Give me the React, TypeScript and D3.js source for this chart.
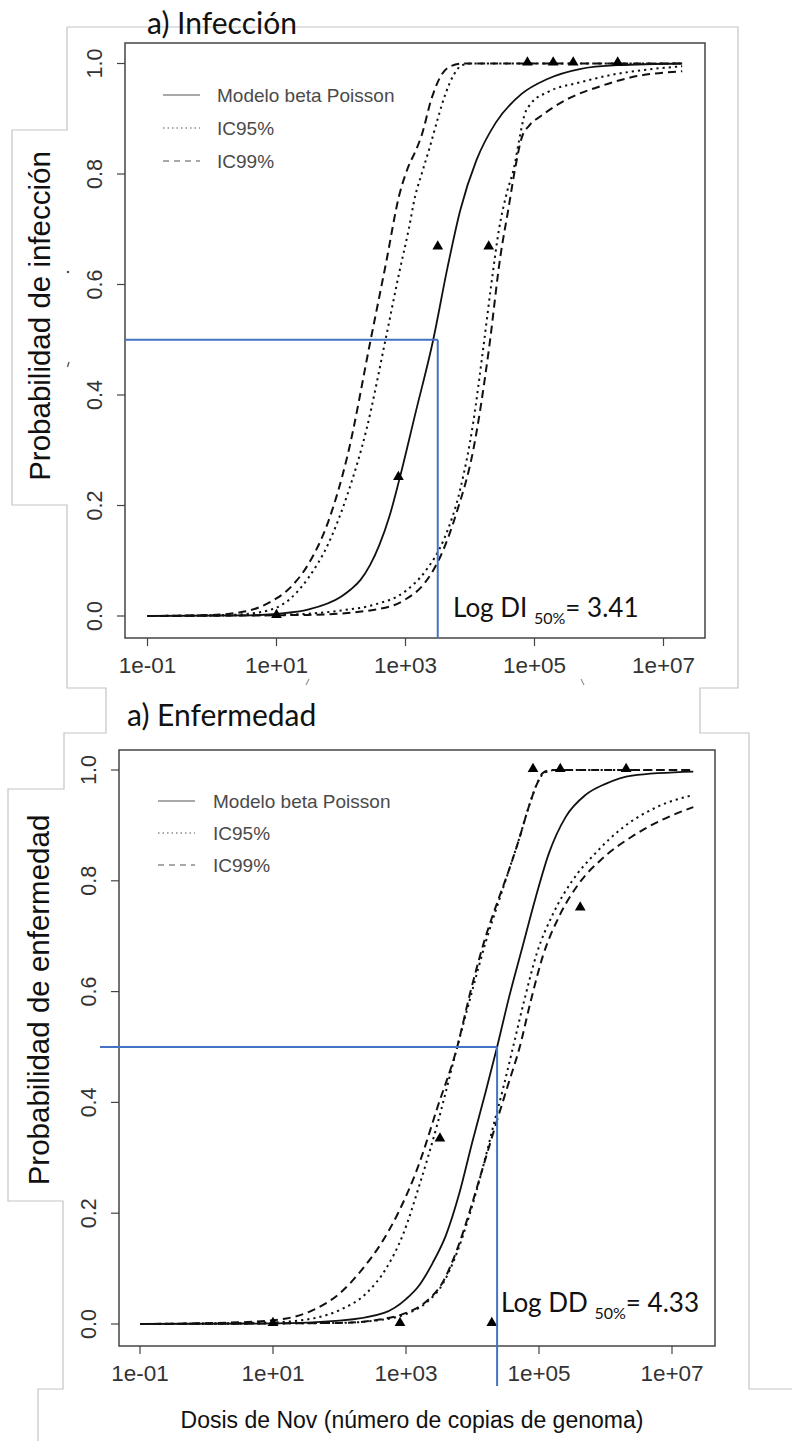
import React from 'react';
import * as d3 from 'd3';

type Pt = [number, number]; // [log10 dose, probability]

// ---------- axis ticks ----------
const xTickValues = [1e-1, 1e1, 1e3, 1e5, 1e7];
const xTickLabels = ['1e-01', '1e+01', '1e+03', '1e+05', '1e+07'];
const yTickValues = [0, 0.2, 0.4, 0.6, 0.8, 1.0];
const yTickLabels = ['0.0', '0.2', '0.4', '0.6', '0.8', '1.0'];
const legendLabels = ['Modelo beta Poisson', 'IC95%', 'IC99%'];

// ---------- a) Infección ----------
const infModel: Pt[] = [[-1, 0], [0.5, 0.001], [1.0, 0.004], [1.5, 0.012], [2.0, 0.035], [2.15, 0.048], [2.3, 0.065], [2.45, 0.092], [2.6, 0.13], [2.75, 0.18], [2.9, 0.245], [3.15, 0.365], [3.43, 0.5], [3.65, 0.63], [3.85, 0.735], [4.1, 0.825], [4.4, 0.893], [4.8, 0.945], [5.2, 0.972], [5.7, 0.99], [6.3, 0.997], [7.29, 1.0]];
const infLo95: Pt[] = [[-1, 0], [0.3, 0.002], [0.8, 0.008], [1.2, 0.03], [1.5, 0.07], [1.8, 0.13], [2.1, 0.22], [2.4, 0.34], [2.69, 0.5], [2.9, 0.62], [3.05, 0.7], [3.15, 0.76], [3.25, 0.8], [3.38, 0.85], [3.5, 0.9], [3.62, 0.945], [3.75, 0.98], [3.88, 0.997], [4.05, 1.0], [7.29, 1.0]];
const infHi95: Pt[] = [[-1, 0], [1.0, 0.002], [2.0, 0.01], [2.5, 0.02], [3.0, 0.045], [3.3, 0.08], [3.6, 0.14], [3.85, 0.23], [4.05, 0.35], [4.2, 0.48], [4.33, 0.6], [4.45, 0.7], [4.58, 0.77], [4.68, 0.81], [4.76, 0.86], [4.84, 0.905], [4.95, 0.928], [5.2, 0.948], [5.71, 0.966], [6.22, 0.98], [6.75, 0.989], [7.29, 0.995]];
const infLo99: Pt[] = [[-1, 0], [0, 0.002], [0.5, 0.008], [0.9, 0.025], [1.2, 0.05], [1.5, 0.095], [1.8, 0.17], [2.1, 0.29], [2.46, 0.5], [2.7, 0.64], [2.9, 0.76], [3.05, 0.815], [3.15, 0.84], [3.25, 0.87], [3.4, 0.935], [3.55, 0.978], [3.7, 0.995], [3.9, 1.0], [7.29, 1.0]];
const infHi99: Pt[] = [[-1, 0], [1.5, 0.002], [2.5, 0.011], [3.0, 0.03], [3.3, 0.06], [3.55, 0.11], [3.8, 0.19], [4.05, 0.3], [4.29, 0.48], [4.47, 0.65], [4.6, 0.74], [4.7, 0.81], [4.8, 0.865], [4.92, 0.888], [5.1, 0.905], [5.5, 0.935], [6.0, 0.958], [6.5, 0.975], [7.29, 0.986]];
const infObsDose = [1.0, 2.89, 3.5, 4.29, 4.89, 5.29, 5.6, 6.29];
const infObsProb = [0, 0.25, 0.667, 0.667, 1, 1, 1, 1];
const infMarkLog = 3.5;

// ---------- a) Enfermedad ----------
const disModel: Pt[] = [[-1, 0], [1.0, 0.001], [2.0, 0.006], [2.67, 0.02], [3.0, 0.045], [3.2, 0.07], [3.4, 0.11], [3.6, 0.16], [3.8, 0.235], [4.0, 0.33], [4.2, 0.42], [4.37, 0.5], [4.55, 0.59], [4.75, 0.68], [4.95, 0.77], [5.15, 0.85], [5.4, 0.915], [5.7, 0.955], [6.0, 0.975], [6.4, 0.99], [7.32, 0.997]];
const disLo95: Pt[] = [[-1, 0], [1.0, 0.003], [1.6, 0.01], [2.0, 0.025], [2.4, 0.055], [2.7, 0.1], [2.95, 0.16], [3.2, 0.25], [3.47, 0.36], [3.77, 0.5], [3.97, 0.59], [4.2, 0.69], [4.4, 0.765], [4.55, 0.82], [4.7, 0.875], [4.85, 0.935], [4.97, 0.975], [5.08, 0.995], [5.25, 1.0], [7.32, 1.0]];
const disHi95: Pt[] = [[-1, 0], [2.0, 0.002], [2.6, 0.007], [3.0, 0.018], [3.3, 0.038], [3.55, 0.072], [3.77, 0.13], [3.95, 0.195], [4.15, 0.28], [4.33, 0.365], [4.47, 0.43], [4.61, 0.5], [4.78, 0.585], [4.97, 0.67], [5.21, 0.74], [5.5, 0.8], [5.85, 0.85], [6.25, 0.895], [6.75, 0.932], [7.32, 0.955]];
const disLo99: Pt[] = [[-1, 0], [0.5, 0.003], [1.2, 0.01], [1.6, 0.025], [2.0, 0.055], [2.35, 0.1], [2.65, 0.15], [2.88, 0.2], [3.2, 0.29], [3.47, 0.39], [3.77, 0.5], [3.97, 0.6], [4.2, 0.7], [4.4, 0.77], [4.55, 0.82], [4.7, 0.875], [4.85, 0.935], [4.97, 0.975], [5.06, 0.995], [5.2, 1.0], [7.32, 1.0]];
const disHi99: Pt[] = [[-1, 0], [2.0, 0.002], [2.6, 0.008], [3.0, 0.02], [3.3, 0.04], [3.55, 0.075], [3.77, 0.135], [3.95, 0.2], [4.15, 0.28], [4.35, 0.36], [4.53, 0.43], [4.71, 0.5], [4.88, 0.585], [5.06, 0.665], [5.3, 0.735], [5.6, 0.795], [5.95, 0.84], [6.4, 0.88], [6.85, 0.91], [7.32, 0.933]];
const disObsDose = [1.0, 2.91, 3.51, 4.29, 4.91, 5.32, 5.62, 6.31];
const disObsProb = [0, 0, 0.333, 0, 1, 1, 0.75, 1];
const disMarkLog = 4.37;

const DASH = '8 5';
const DOT = '2.2 4';
const BLUE = '#4472C4';
const CAL = 'Lato, "Open Sans", sans-serif';
const ARIAL = '"Liberation Sans", Arial, Helvetica, sans-serif';

interface Layout {
  box: [number, number, number, number];
  xRange: [number, number];
  yRange: [number, number];
  title: string;
  titlePos: [number, number];
  yTitle: string;
  yTitlePos: [number, number];
  legendY: number[];
  legendX: [number, number, number];
  annot: [string, string, string];
  annotPos: [number, number];
  hStart: number;
  vEnd: number;
}

function Panel(props: {
  L: Layout;
  model: Pt[]; lo95: Pt[]; hi95: Pt[]; lo99: Pt[]; hi99: Pt[];
  obsDose: number[]; obsProb: number[]; markLog: number;
}) {
  const { L } = props;
  const [bx0, by0, bx1, by1] = L.box;
  const x = d3.scaleLog().domain([1e-1, 1e7]).range(L.xRange);
  const y = d3.scaleLinear().domain([0, 1]).range(L.yRange);
  const line = d3.line<Pt>().x(d => x(Math.pow(10, d[0]))).y(d => y(d[1])).curve(d3.curveMonotoneX);
  const tri = d3.symbol().type(d3.symbolTriangle).size(50)();
  const mx = x(Math.pow(10, props.markLog));
  const my = y(0.5);
  const curves: [Pt[], string | undefined][] = [
    [props.lo99, DASH], [props.hi99, DASH], [props.lo95, DOT], [props.hi95, DOT], [props.model, undefined],
  ];
  const legendDash = [undefined, '1.5 3', '6 5'];
  return (
    <g>
      <text x={L.titlePos[0]} y={L.titlePos[1]} fontFamily={CAL} fontSize={30} fill="#111">{L.title}</text>
      <rect x={bx0} y={by0} width={bx1 - bx0} height={by1 - by0} fill="white" stroke="#444" strokeWidth={1.5} />
      {/* y axis */}
      {yTickValues.map((v, i) => (
        <g key={'y' + i}>
          <line x1={bx0 - 8} x2={bx0} y1={y(v)} y2={y(v)} stroke="#444" strokeWidth={1.2} />
          <text transform={`translate(${bx0 - 23},${y(v)}) rotate(-90)`} textAnchor="middle" fontFamily={ARIAL} fontSize={21.5} fill="#333">{yTickLabels[i]}</text>
        </g>
      ))}
      {/* x axis */}
      {xTickValues.map((v, i) => (
        <g key={'x' + i}>
          <line x1={x(v)} x2={x(v)} y1={by1} y2={by1 + 8} stroke="#444" strokeWidth={1.2} />
          <text x={x(v)} y={by1 + 35} textAnchor="middle" fontFamily={ARIAL} fontSize={22.5} fill="#333">{xTickLabels[i]}</text>
        </g>
      ))}
      <text transform={`translate(${L.yTitlePos[0]},${L.yTitlePos[1]}) rotate(-90)`} textAnchor="middle" fontFamily={ARIAL} fontSize={29.5} fill="#111">{L.yTitle}</text>
      {/* legend */}
      {legendLabels.map((t, i) => (
        <g key={'l' + i}>
          <line x1={L.legendX[0]} x2={L.legendX[1]} y1={L.legendY[i]} y2={L.legendY[i]} stroke="#8c8c8c" strokeWidth={1.4} strokeDasharray={legendDash[i]} />
          <text x={L.legendX[2]} y={L.legendY[i] + 7} fontFamily={ARIAL} fontSize={19} fill="#4a4a4a">{t}</text>
        </g>
      ))}
      {/* curves */}
      {curves.map(([d, dash], i) => (
        <path key={'c' + i} d={line(d) || ''} fill="none" stroke="#111" strokeWidth={dash ? 2 : 1.8} strokeDasharray={dash} />
      ))}
      {props.obsDose.map((v, i) => (
        <path key={'o' + i} d={tri || ''} transform={`translate(${x(Math.pow(10, v))},${y(props.obsProb[i]) - 1})`} fill="#000" />
      ))}
      {/* blue marker lines */}
      <line x1={L.hStart} x2={mx} y1={my} y2={my} stroke={BLUE} strokeWidth={2} />
      <line x1={mx} x2={mx} y1={my} y2={L.vEnd} stroke={BLUE} strokeWidth={2} />
      <text x={L.annotPos[0]} y={L.annotPos[1]} fontFamily={CAL} fontSize={26} fill="#111">
        {L.annot[0]}
        <tspan fontSize={16} dy={7}>{L.annot[1]}</tspan>
        <tspan dy={-7}>{L.annot[2]}</tspan>
      </text>
    </g>
  );
}

const topLayout: Layout = {
  box: [125, 43, 705, 638],
  xRange: [147.5, 663.5],
  yRange: [616, 63.5],
  title: 'a) Infección',
  titlePos: [147, 34],
  yTitle: 'Probabilidad de infección',
  yTitlePos: [50, 316],
  legendY: [95, 128, 161],
  legendX: [163, 200, 217],
  annot: ['Log DI ', '50%', '= 3.41'],
  annotPos: [453, 617],
  hStart: 125,
  vEnd: 638,
};

const botLayout: Layout = {
  box: [119, 750, 715, 1346],
  xRange: [140, 672],
  yRange: [1324, 770],
  title: 'a) Enfermedad',
  titlePos: [127, 726],
  yTitle: 'Probabilidad de enfermedad',
  yTitlePos: [49, 1000],
  legendY: [801, 833, 865],
  legendX: [158, 195, 213],
  annot: ['Log DD ', '50%', '= 4.33'],
  annotPos: [501, 1312],
  hStart: 100,
  vEnd: 1386,
};

export default function App() {
  const frameLeft = [[67, 27], [67, 130], [12, 130], [12, 505], [67, 505], [67, 688], [106, 688], [106, 733], [64, 733], [64, 789], [8, 789], [8, 1201], [63, 1201], [63, 1389], [38, 1389], [38, 1441]];
  const frameRight = [[67, 27], [738, 27], [738, 688], [700, 688], [700, 733], [749, 733], [749, 1389], [792, 1389]];
  const poly = (p: number[][]) => p.map(q => q.join(',')).join(' ');
  return (
    <svg width={792} height={1441} style={{ position: 'absolute', left: 0, top: 0, background: 'white' }}>
      <rect width={792} height={1441} fill="white" />
      <polyline points={poly(frameLeft)} fill="none" stroke="#c4c4c4" strokeWidth={1.2} />
      <polyline points={poly(frameRight)} fill="none" stroke="#c4c4c4" strokeWidth={1.2} />
      <Panel L={topLayout} model={infModel} lo95={infLo95} hi95={infHi95} lo99={infLo99} hi99={infHi99} obsDose={infObsDose} obsProb={infObsProb} markLog={infMarkLog} />
      <Panel L={botLayout} model={disModel} lo95={disLo95} hi95={disHi95} lo99={disLo99} hi99={disHi99} obsDose={disObsDose} obsProb={disObsProb} markLog={disMarkLog} />
      <text x={412} y={1428} textAnchor="middle" fontFamily={ARIAL} fontSize={23} fill="#111">Dosis de Nov (número de copias de genoma)</text>
      {/* small scan artefacts */}
      <circle cx={68} cy={272} r={1.3} fill="#555" />
      <path d="M69,362 l-1.5,5" stroke="#555" strokeWidth={1.3} />
      <path d="M309,679 l-3,6" stroke="#999" strokeWidth={1.2} />
      <path d="M581,679 l3,6" stroke="#999" strokeWidth={1.2} />
    </svg>
  );
}
